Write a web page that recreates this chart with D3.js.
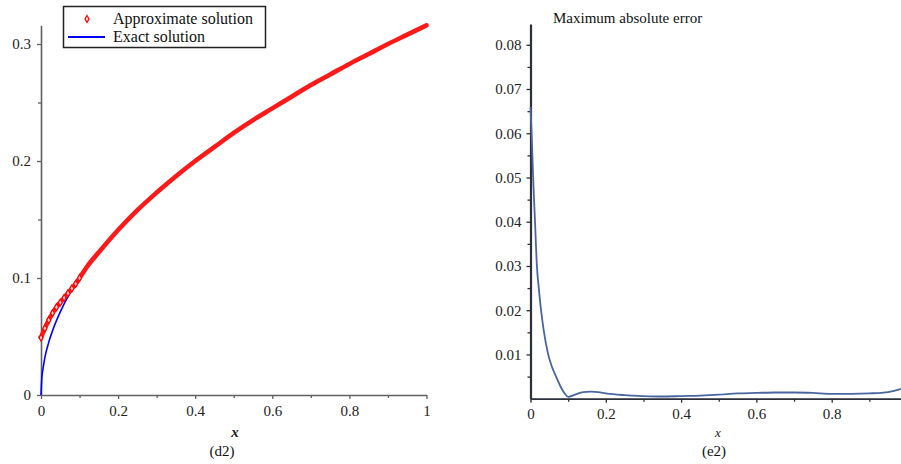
<!DOCTYPE html>
<html>
<head>
<meta charset="utf-8">
<script src="https://cdn.jsdelivr.net/npm/d3@7"></script>
<style>
  body { margin: 0; background: #fff; }
  svg { display: block; }
  svg text { font-family: "Liberation Serif", "DejaVu Serif", serif; }
</style>
</head>
<body>
<svg width="901" height="464"></svg>
<script>
// левый график (d2): точное и приближённое решение
const exactX = [0, 0.002, 0.005, 0.01, 0.02, 0.03, 0.05, 0.075, 0.1, 0.15, 0.2, 0.25, 0.3, 0.35, 0.4, 0.45, 0.5, 0.55, 0.6, 0.65, 0.7, 0.75, 0.8, 0.85, 0.9, 0.95, 1.0];
const exactY = [0, 0.014, 0.022, 0.032, 0.045, 0.055, 0.071, 0.087, 0.100, 0.122, 0.141, 0.158, 0.173, 0.187, 0.200, 0.212, 0.224, 0.235, 0.245, 0.255, 0.265, 0.274, 0.283, 0.2915, 0.300, 0.308, 0.316];

const approxX = [0, 0.01, 0.02, 0.03, 0.04, 0.05, 0.06, 0.07, 0.08, 0.09, 0.1, 0.12, 0.15, 0.2, 0.25, 0.3, 0.35, 0.4, 0.45, 0.5, 0.55, 0.6, 0.65, 0.7, 0.75, 0.8, 0.85, 0.9, 0.95, 1.0];
const approxY = [0.049, 0.057, 0.064, 0.070, 0.075, 0.079, 0.083, 0.087, 0.091, 0.095, 0.100, 0.110, 0.122, 0.141, 0.158, 0.173, 0.187, 0.200, 0.212, 0.224, 0.235, 0.245, 0.255, 0.265, 0.274, 0.283, 0.2915, 0.300, 0.308, 0.316];

// правый график (e2): максимальная абсолютная ошибка
const errX = [0, 0.003, 0.007, 0.012, 0.017, 0.022, 0.028, 0.035, 0.047, 0.057, 0.068, 0.08, 0.09, 0.1, 0.12, 0.14, 0.16, 0.18, 0.2, 0.25, 0.3, 0.35, 0.4, 0.45, 0.5, 0.55, 0.6, 0.65, 0.7, 0.75, 0.8, 0.85, 0.9, 0.95, 0.98, 1.0];
const errY = [0.066, 0.060, 0.050, 0.040, 0.030, 0.025, 0.020, 0.0155, 0.010, 0.0072, 0.0050, 0.0027, 0.0013, 0.0004, 0.0010, 0.0015, 0.0016, 0.0015, 0.0012, 0.0008, 0.0006, 0.0005, 0.0006, 0.0007, 0.0009, 0.0012, 0.0013, 0.0014, 0.0014, 0.0013, 0.0011, 0.0011, 0.0012, 0.0015, 0.0021, 0.0028];

const leftXTicks = [0, 0.2, 0.4, 0.6, 0.8, 1];
const leftYTicks = [0, 0.1, 0.2, 0.3];
const rightXTicks = [0, 0.2, 0.4, 0.6, 0.8];
const rightYTicks = [0.01, 0.02, 0.03, 0.04, 0.05, 0.06, 0.07, 0.08];

const svg = d3.select("svg");
const serif = "Liberation Serif, DejaVu Serif, serif";

// ---------- левый график ----------
const xL = d3.scaleLinear().domain([0, 1]).range([41, 426.5]);
const yL = d3.scaleLinear().domain([0, 0.316]).range([395, 25.3]);
const leftAxisColor = "#606060";

function styleAxis(g, color, w) {
  g.attr("font-family", serif).attr("font-size", 15);
  g.select(".domain").attr("stroke", color).attr("stroke-width", w);
  g.selectAll(".tick line").attr("stroke", color).attr("stroke-width", 1.3);
  g.selectAll(".tick text").attr("fill", "#222");
}

function minorTicks(axis, color) {
  return g => {
    g.call(axis.tickFormat("").tickSizeOuter(0));
    g.select(".domain").remove();
    g.selectAll("line").attr("stroke", color).attr("stroke-width", 1.3);
  };
}

// малые деления
svg.append("g").attr("transform", `translate(0,${yL(0)})`)
  .call(minorTicks(d3.axisBottom(xL).tickValues([0.1, 0.3, 0.5, 0.7, 0.9]).tickSize(3), leftAxisColor));
svg.append("g").attr("transform", `translate(${xL(0)},0)`)
  .call(minorTicks(d3.axisLeft(yL).tickValues([0.05, 0.15, 0.25]).tickSize(3), leftAxisColor));

svg.append("g").attr("transform", `translate(0,${yL(0)})`)
  .call(d3.axisBottom(xL).tickValues(leftXTicks).tickSize(4).tickSizeOuter(0).tickPadding(6)
    .tickFormat(d => d === 0 || d === 1 ? String(d) : d3.format(".1f")(d)))
  .call(g => styleAxis(g, leftAxisColor, 1.6));

svg.append("g").attr("transform", `translate(${xL(0)},0)`)
  .call(d3.axisLeft(yL).tickValues(leftYTicks).tickSize(4).tickSizeOuter(0).tickPadding(6)
    .tickFormat(d => d === 0 ? "0" : d3.format(".1f")(d)))
  .call(g => styleAxis(g, leftAxisColor, 1.6));

const exactData = exactX.map((x, i) => [x, exactY[i]]);
const approxData = approxX.map((x, i) => [x, approxY[i]]);
const lineL = d3.line().x(d => xL(d[0])).y(d => yL(d[1])).curve(d3.curveMonotoneX);

svg.append("path")
  .datum(exactData)
  .attr("fill", "none")
  .attr("stroke", "#0000ff")
  .attr("stroke-width", 1.6)
  .attr("d", lineL);

// приближённое решение: плотная цепочка ромбов - толстая линия + маркеры
svg.append("path")
  .datum(approxData)
  .attr("fill", "none")
  .attr("stroke", "#ff1a1a")
  .attr("stroke-width", 4.6)
  .attr("stroke-linecap", "round")
  .attr("d", lineL);

svg.selectAll(".approxDot")
  .data(approxData.filter(d => d[0] <= 0.1))
  .enter()
  .append("path")
  .attr("d", d3.symbol(d3.symbolDiamond, 14))
  .attr("transform", d => `translate(${xL(d[0])},${yL(d[1])})`)
  .attr("fill", "#ffd0d0")
  .attr("stroke", "#ff0000")
  .attr("stroke-width", 1.2);

// легенда
const legend = svg.append("g");
legend.append("rect")
  .attr("x", 63.5).attr("y", 6.5).attr("width", 202).attr("height", 41)
  .attr("fill", "#fff").attr("stroke", "#222").attr("stroke-width", 1.5);
legend.append("path")
  .attr("d", d3.symbol(d3.symbolDiamond, 14))
  .attr("transform", "translate(87,19)")
  .attr("fill", "#ffd0d0").attr("stroke", "#ff0000").attr("stroke-width", 1.2);
legend.append("line")
  .attr("x1", 68).attr("x2", 105).attr("y1", 37).attr("y2", 37)
  .attr("stroke", "#0000ff").attr("stroke-width", 2);
legend.append("text").attr("x", 113).attr("y", 24).text("Approximate solution")
  .attr("font-size", 16).attr("fill", "#111");
legend.append("text").attr("x", 113).attr("y", 42).text("Exact solution")
  .attr("font-size", 16).attr("fill", "#111");

svg.append("text").attr("x", 235).attr("y", 437).attr("text-anchor", "middle")
  .attr("font-size", 15).attr("font-style", "italic").attr("font-weight", "bold")
  .attr("fill", "#222").text("x");
svg.append("text").attr("x", 222).attr("y", 456).attr("text-anchor", "middle")
  .attr("font-size", 15).attr("fill", "#111").text("(d2)");

// ---------- правый график ----------
const xR = d3.scaleLinear().domain([0, 1]).range([530.5, 907]);
const yR = d3.scaleLinear().domain([0, 0.0847]).range([398.7, 24]);
const rightAxisColor = "#2b2f3a";

svg.append("g").attr("transform", `translate(0,${yR(0)})`)
  .call(minorTicks(d3.axisBottom(xR).tickValues([0.1, 0.3, 0.5, 0.7, 0.9]).tickSize(3), rightAxisColor));
svg.append("g").attr("transform", `translate(${xR(0)},0)`)
  .call(minorTicks(d3.axisLeft(yR).tickValues(d3.range(0.005, 0.085, 0.01)).tickSize(3), rightAxisColor));

svg.append("g").attr("transform", `translate(0,${yR(0)})`)
  .call(d3.axisBottom(xR).tickValues(rightXTicks).tickSize(4).tickSizeOuter(0).tickPadding(6)
    .tickFormat(d => d === 0 ? "0" : d3.format(".1f")(d)))
  .call(g => styleAxis(g, rightAxisColor, 1.8));

svg.append("g").attr("transform", `translate(${xR(0)},0)`)
  .call(d3.axisLeft(yR).tickValues(rightYTicks).tickSize(4).tickSizeOuter(0).tickPadding(5)
    .tickFormat(d3.format(".2f")))
  .call(g => styleAxis(g, rightAxisColor, 2.2));

const errData = errX.map((x, i) => [x, errY[i]]);
svg.append("path")
  .datum(errData)
  .attr("fill", "none")
  .attr("stroke", "#4a66a0")
  .attr("stroke-width", 1.8)
  .attr("d", d3.line().x(d => xR(d[0])).y(d => yR(d[1])).curve(d3.curveMonotoneX));

svg.append("text").attr("x", 553).attr("y", 23)
  .attr("font-size", 15).attr("fill", "#111").text("Maximum absolute error");

svg.append("text").attr("x", 718).attr("y", 437).attr("text-anchor", "middle")
  .attr("font-size", 13).attr("font-style", "italic")
  .attr("fill", "#222").text("x");
svg.append("text").attr("x", 714).attr("y", 456).attr("text-anchor", "middle")
  .attr("font-size", 15).attr("fill", "#111").text("(e2)");
</script>
</body>
</html>
